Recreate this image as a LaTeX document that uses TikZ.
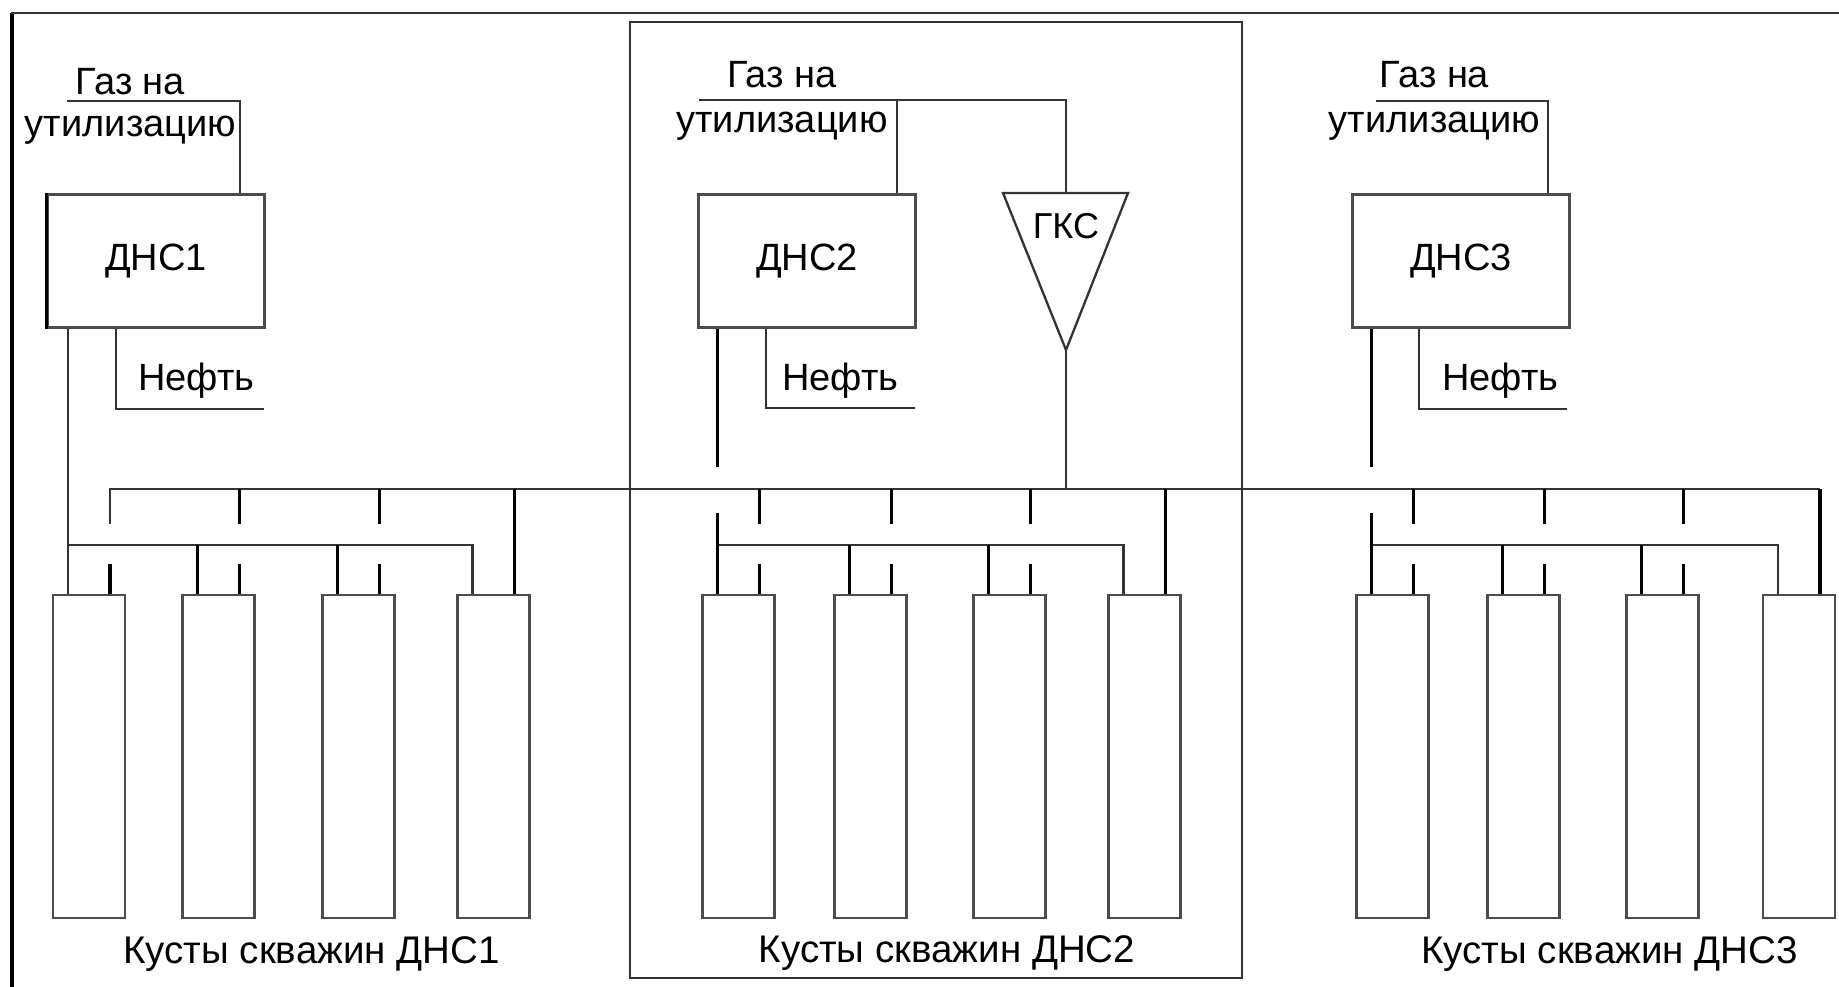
\documentclass[tikz,border=0pt]{standalone}
\usepackage{fontspec}
\setmainfont{Liberation Sans}
\begin{document}
\begin{tikzpicture}[x=1pt,y=-1pt,
 ln/.style={draw=black!80, line width=2.3pt},
 lnk/.style={draw=black, line width=3.2pt},
 dnsbox/.style={draw=black!70, line width=2.5pt, minimum width=217pt, minimum height=133pt, inner sep=0pt, font=\fontsize{38}{40}\selectfont},
 kbox/.style={draw=black!70, line width=2.5pt, minimum width=72pt, minimum height=323pt, inner sep=0pt},
 lbl/.style={inner sep=0pt, anchor=base, font=\fontsize{38}{40}\selectfont},
 lblk/.style={lbl, font=\fontsize{38.5}{40}\selectfont},
]
\useasboundingbox (0,0) rectangle (1839,987);
\fill[white] (0,0) rectangle (1839,987);
% outer frame (cut at right and bottom)
\draw[lnk] (12,987) -- (12,13);
\draw[ln] (11,13) -- (1839,13);
% middle frame
\draw[ln] (630,22) rectangle (1242,978);

% DNS boxes
\node[dnsbox] (dns1) at (156,261) {ДНС1};
\node[dnsbox] (dns2) at (807,261) {ДНС2};
\node[dnsbox] (dns3) at (1461,261) {ДНС3};
\draw[lnk] (dns1.south west) -- (dns1.north west);

% well clusters
\foreach \n/\x in {11/89,12/218.5,13/358.5,14/493.5,21/738.5,22/870.5,23/1009.5,24/1144.5,31/1392.5,32/1523.5,33/1662.5,34/1799}
  \node[kbox] (k\n) at (\x,756.5) {};
\foreach \n in {11,12,13,14,21,22,23,24,31,32,33,34} {
  \coordinate (L\n) at ([xshift=-21pt]k\n.north);
  \coordinate (R\n) at ([xshift=21pt]k\n.north);
}
\coordinate (upH) at (0,489);
\coordinate (lowH) at (0,545);
\coordinate (tkA) at (0,524);
\coordinate (tkB) at (0,564);
\coordinate (gapA) at (0,467);
\coordinate (gapB) at (0,513);

% upper collector
\draw[ln] (R11 |- tkA) -- (R11 |- upH) -- (R34 |- upH);
\foreach \n in {12,13,21,22,23,31,32,33}
  \draw[lnk] (R\n |- upH) -- (R\n |- tkA);
\foreach \n in {11,12,13,21,22,23,31,32,33}
  \draw[lnk] (R\n |- tkB) -- (R\n);
\foreach \s in {1,2,3} {
  \draw[lnk] (R\s4 |- upH) -- (R\s4);
  % lower collector
  \draw[ln] (L\s1 |- lowH) -| (L\s4);
  \draw[lnk] (L\s2 |- lowH) -- (L\s2);
  \draw[lnk] (L\s3 |- lowH) -- (L\s3);
}

% DNS drops
\draw[ln] (L11 |- dns1.south) -- (L11);
\draw[lnk] (L21 |- dns2.south) -- (L21 |- gapA);
\draw[lnk] (L21 |- gapB) -- (L21);
\draw[lnk] (L31 |- dns3.south) -- (L31 |- gapA);
\draw[lnk] (L31 |- gapB) -- (L31);

% GKS
\coordinate (gksT) at (1066,193);
\coordinate (gksB) at (1066,350);
\draw[ln] (1003,193) -- (1128,193) -- (gksB) -- cycle;
\node[lbl, font=\fontsize{36}{38}\selectfont] (gks) at (1066,238) {ГКС};
\draw[ln] (gksB) -- (gksB |- upH);

% gas lines
\coordinate (g1) at (67,101);
\coordinate (d1g) at ([xshift=84pt]dns1.north);
\draw[ln] (g1) -| (d1g);
\coordinate (g2) at (699,100);
\coordinate (d2g) at ([xshift=90pt]dns2.north);
\draw[ln] (g2) -| (gksT);
\draw[ln] (d2g) -- (d2g |- g2);
\coordinate (g3) at (1376,101);
\coordinate (d3g) at ([xshift=87pt]dns3.north);
\draw[ln] (g3) -| (d3g);

% oil lines
\coordinate (o1) at ([xshift=-40pt]dns1.south);
\coordinate (o1e) at (264,409);
\draw[ln] (o1) |- (o1e);
\coordinate (o2) at ([xshift=-41pt]dns2.south);
\coordinate (o2e) at (915,408);
\draw[ln] (o2) |- (o2e);
\coordinate (o3) at ([xshift=-42pt]dns3.south);
\coordinate (o3e) at (1567,409);
\draw[ln] (o3) |- (o3e);

% labels
\node[lbl] (gas1) at (130.5,95) {Газ на};
\node[lbl] (ut1) at (130.5,137) {утилизацию};
\node[lbl] (gas2) at (782,88) {Газ на};
\node[lbl] (ut2) at (782,133) {утилизацию};
\node[lbl] (gas3) at (1434.5,88) {Газ на};
\node[lbl] (ut3) at (1434.5,133) {утилизацию};
\node[lbl] (oil1) at (196.5,390) {Нефть};
\node[lbl] (oil2) at (840.5,390) {Нефть};
\node[lbl] (oil3) at (1500.5,390) {Нефть};
\node[lblk] (kt1) at (311.5,963) {Кусты скважин ДНС1};
\node[lblk] (kt2) at (947,962) {Кусты скважин ДНС2};
\node[lblk] (kt3) at (1609.5,963) {Кусты скважин ДНС3};
\end{tikzpicture}
\end{document}
